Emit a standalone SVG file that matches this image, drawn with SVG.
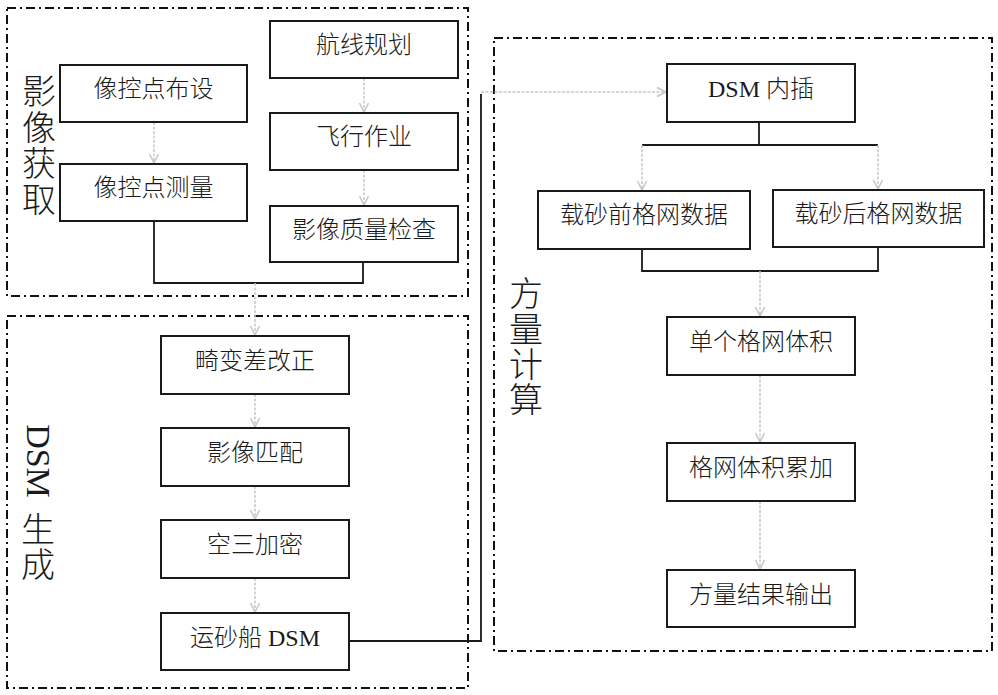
<svg xmlns="http://www.w3.org/2000/svg" width="998" height="695" viewBox="0 0 998 695">
<defs>
<style>
.grp{fill:none;stroke:#111;stroke-width:2;stroke-dasharray:9 4 2 4}
.box{fill:#fff;stroke:#1a1a1a;stroke-width:2}
.t{font-family:"Liberation Serif","Noto Sans CJK SC",serif;font-size:24px;font-weight:300;fill:#1a1a1a;text-anchor:middle;dominant-baseline:central}
.lbl{font-family:"Liberation Serif","Noto Sans CJK SC",serif;font-size:34px;font-weight:300;fill:#1a1a1a;text-anchor:middle;dominant-baseline:central}
.ln{fill:none;stroke:#1a1a1a;stroke-width:1.8}
.ar{fill:none;stroke:#c8c8c8;stroke-width:1.5;stroke-dasharray:3 1.5;marker-end:url(#ah)}
</style>
<marker id="ah" markerUnits="userSpaceOnUse" markerWidth="12" markerHeight="12" viewBox="0 0 12 12" refX="11" refY="6" orient="auto">
<path d="M2,1.5 L11,6 L2,10.5" fill="none" stroke="#c8c8c8" stroke-width="1.6"/>
</marker>
</defs>
<rect width="998" height="695" fill="#fff"/>

<g id="group-acquire">
<rect class="grp" x="7" y="8" width="461" height="288"/>
<text class="lbl" x="39"><tspan x="39" y="92">影</tspan><tspan x="39" y="128">像</tspan><tspan x="39" y="164">获</tspan><tspan x="39" y="200">取</tspan></text>
</g>
<g id="group-dsm">
<rect class="grp" x="7" y="316" width="461" height="372"/>
<text class="lbl" transform="translate(38,461) rotate(90)" x="0" y="0">DSM</text>
<text class="lbl" x="38"><tspan x="38" y="530">生</tspan><tspan x="38" y="565">成</tspan></text>
</g>
<g id="group-volume">
<rect class="grp" x="494" y="38" width="498" height="613"/>
<text class="lbl" x="526"><tspan x="526" y="294">方</tspan><tspan x="526" y="330">量</tspan><tspan x="526" y="365">计</tspan><tspan x="526" y="400">算</tspan></text>
</g>

<g id="connectors">
<path class="ln" d="M154,221 V283 H363 V262"/>
<path class="ln" d="M349,641 H481 V94"/>
<path class="ln" d="M759,122 V145 M642,145 H878"/>
<path class="ln" d="M642,249 V271 H878 V247"/>
<path class="ar" d="M154,122 V163"/>
<path class="ar" d="M364,78 V112"/>
<path class="ar" d="M364,170 V205"/>
<path class="ar" d="M255,283 V335"/>
<path class="ar" d="M255,394 V427"/>
<path class="ar" d="M255,486 V519"/>
<path class="ar" d="M255,578 V612"/>
<path class="ar" d="M481,92 H666"/>
<path class="ar" d="M642,145 V190"/>
<path class="ar" d="M878,145 V189"/>
<path class="ar" d="M760,271 V316"/>
<path class="ar" d="M760,375 V442"/>
<path class="ar" d="M760,501 V569"/>
</g>

<g id="n-kzbs"><rect class="box" x="60" y="65" width="187" height="57"/><text class="t" x="153.5" y="89">像控点布设</text></g>
<g id="n-kzcl"><rect class="box" x="60" y="164" width="187" height="57"/><text class="t" x="153.5" y="188">像控点测量</text></g>
<g id="n-hxgh"><rect class="box" x="270" y="21" width="188" height="57"/><text class="t" x="364" y="45">航线规划</text></g>
<g id="n-fxzy"><rect class="box" x="270" y="113" width="188" height="57"/><text class="t" x="364" y="137">飞行作业</text></g>
<g id="n-yxzl"><rect class="box" x="270" y="206" width="188" height="56"/><text class="t" x="364" y="230">影像质量检查</text></g>

<g id="n-jbcgz"><rect class="box" x="161" y="336" width="188" height="58"/><text class="t" x="255" y="361">畸变差改正</text></g>
<g id="n-yxpp"><rect class="box" x="161" y="428" width="188" height="58"/><text class="t" x="255" y="453">影像匹配</text></g>
<g id="n-ksjm"><rect class="box" x="161" y="520" width="188" height="58"/><text class="t" x="255" y="545">空三加密</text></g>
<g id="n-yscdsm"><rect class="box" x="161" y="613" width="188" height="57"/><text class="t" x="255" y="638">运砂船 DSM</text></g>

<g id="n-dsmnc"><rect class="box" x="667" y="64" width="188" height="58"/><text class="t" x="761" y="89">DSM 内插</text></g>
<g id="n-zsq"><rect class="box" x="538" y="191" width="212" height="58"/><text class="t" x="644" y="215">载砂前格网数据</text></g>
<g id="n-zsh"><rect class="box" x="773" y="190" width="211" height="57"/><text class="t" x="878.5" y="214">载砂后格网数据</text></g>
<g id="n-dggw"><rect class="box" x="667" y="317" width="188" height="58"/><text class="t" x="761" y="342">单个格网体积</text></g>
<g id="n-gwlj"><rect class="box" x="667" y="443" width="188" height="58"/><text class="t" x="761" y="468">格网体积累加</text></g>
<g id="n-flsc"><rect class="box" x="667" y="570" width="188" height="57"/><text class="t" x="761" y="595">方量结果输出</text></g>
</svg>
